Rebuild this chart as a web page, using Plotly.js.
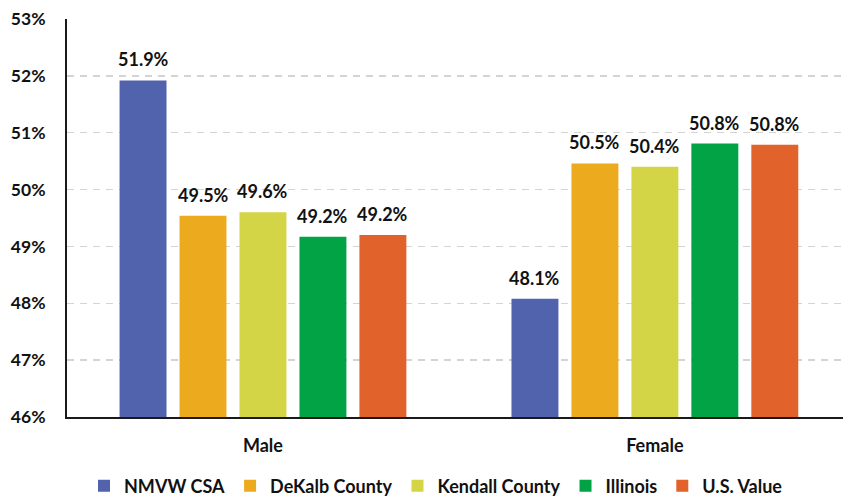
<!DOCTYPE html>
<html>
<head>
<meta charset="utf-8">
<script src="https://cdn.plot.ly/plotly-3.0.1.min.js"></script>
<style>html,body{margin:0;padding:0;background:#fff;}#chart{width:843px;height:497px;}</style>
</head>
<body>
<div id="chart"></div>
<script>
// Data
const categories = ['Male', 'Female'];
const seriesNames = ['NMVW CSA', 'DeKalb County', 'Kendall County', 'Illinois', 'U.S. Value'];
const nmvwCsa = [51.92, 48.08];
const dekalbCounty = [49.54, 50.46];
const kendallCounty = [49.60, 50.40];
const illinois = [49.17, 50.81];
const usValue = [49.20, 50.79];
const yTicks = [46, 47, 48, 49, 50, 51, 52, 53];

const seriesValues = [nmvwCsa, dekalbCounty, kendallCounty, illinois, usValue];
const colors = ['#5263AD', '#ECAB1F', '#D3D546', '#02A345', '#E1622A'];
const FONT = 'Lato, "Open Sans", sans-serif';
const bargap = 0.235;
const bargroupgap = 0.217;

const traces = seriesValues.map((vals, i) => ({
  type: 'bar',
  name: seriesNames[i],
  x: categories,
  y: vals,
  marker: {color: colors[i]},
  hoverinfo: 'skip'
}));

// value labels above bars, positioned on the library's category axis
const nSeries = seriesValues.length;
const pitch = (1 - bargap) / nSeries;
const annotations = [];
seriesValues.forEach((vals, i) => {
  vals.forEach((v, j) => {
    annotations.push({
      xref: 'x', yref: 'y',
      x: j + (i - (nSeries - 1) / 2) * pitch,
      y: v,
      text: v.toFixed(1) + '%',
      showarrow: false,
      yanchor: 'bottom',
      yshift: 8,
      font: {family: FONT, size: 18, color: '#111111', weight: 700}
    });
  });
});

const layout = {
  width: 843, height: 497,
  margin: {l: 67, r: 0, t: 19, b: 80},
  paper_bgcolor: '#ffffff',
  plot_bgcolor: '#ffffff',
  barmode: 'group',
  bargap: bargap,
  bargroupgap: bargroupgap,
  font: {family: FONT, size: 18, color: '#111111', weight: 700},
  xaxis: {
    type: 'category',
    range: [-0.5, 1.48],
    showline: true, linecolor: '#1a1a1a', linewidth: 2,
    ticks: '', showgrid: false, zeroline: false,
    ticklabelstandoff: 11,
    tickfont: {family: FONT, size: 18, color: '#111111', weight: 700}
  },
  yaxis: {
    range: [46, 53],
    tickvals: yTicks,
    ticktext: yTicks.map(t => t + '%'),
    showline: true, linecolor: '#1a1a1a', linewidth: 2,
    ticks: '', zeroline: false,
    showgrid: true, gridcolor: '#d4d4d4', gridwidth: 1.5, griddash: '7px,6px',
    ticklabelstandoff: 16,
    tickfont: {family: FONT, size: 17.5, color: '#111111', weight: 700}
  },
  showlegend: true,
  legend: {
    orientation: 'h',
    xref: 'container', yref: 'container',
    x: 84 / 843, xanchor: 'left',
    y: 11 / 497, yanchor: 'middle',
    font: {family: FONT, size: 18, color: '#111111', weight: 700},
    itemwidth: 30,
    bgcolor: 'rgba(0,0,0,0)'
  },
  annotations: annotations
};

Plotly.newPlot('chart', traces, layout, {displayModeBar: false, staticPlot: true});
</script>
</body>
</html>
